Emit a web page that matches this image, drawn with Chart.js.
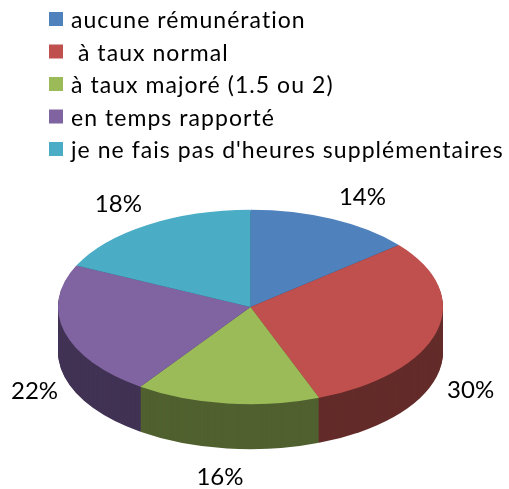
<!DOCTYPE html>
<html>
<head>
<meta charset="utf-8">
<style>
html, body { margin: 0; padding: 0; background: #fff; }
canvas { display: block; }
</style>
<script src="https://cdn.jsdelivr.net/npm/chart.js@4"></script>
</head>
<body>
<canvas id="myChart" width="509" height="489"></canvas>
<script>
const legendes = ["aucune rémunération", " à taux normal", "à taux majoré (1.5 ou 2)", "en temps rapporté", "je ne fais pas d'heures supplémentaires"];
const valeurs = [14, 30.2, 15.5, 22.3, 18];
const couleurs = ["#4F81BD", "#C0504D", "#9BBB59", "#8064A2", "#4BACC6"];
const couleursCote = ["#2A4466", "#622A28", "#4F602E", "#403153", "#245D6C"];

// decalage des etiquettes par rapport au bord de la part
const decalages = [[30, -22], [34, 58], [-7, 74], [-30, 59], [-29, -21]];
const police = "23px Lato";
const policeEtiquette = "24px Lato";
const espacement = "1.05px";

const centreY = 307;
const aplat = 0.505;
const epaisseur = 45;

function placer(ctx, chart, dy) {
    const cy = (chart.chartArea.top + chart.chartArea.bottom) / 2;
    ctx.translate(0, centreY + dy);
    ctx.scale(1, aplat);
    ctx.translate(0, -cy);
}

const pie3d = {
    id: "pie3d",
    beforeDatasetsDraw(chart) {
        const ctx = chart.ctx;
        const arcs = chart.getDatasetMeta(0).data;
        // le cote: les memes parts redessinees par dessous, couche par couche
        ctx.save();
        ctx.globalCompositeOperation = "destination-over";
        for (let d = 1; d <= epaisseur; d++) {
            ctx.save();
            placer(ctx, chart, d);
            arcs.forEach((arc, i) => {
                const opts = arc.options;
                arc.options = Object.assign({}, opts, {backgroundColor: couleursCote[i]});
                arc.draw(ctx);
                arc.options = opts;
            });
            ctx.restore();
        }
        ctx.restore();
        ctx.save();
        placer(ctx, chart, 0);
    },
    afterDatasetsDraw(chart) {
        const ctx = chart.ctx;
        ctx.restore();

        ctx.save();
        ctx.fillStyle = "#000";
        ctx.textBaseline = "middle";

        // pourcentages
        ctx.font = policeEtiquette;
        ctx.textAlign = "center";
        ctx.letterSpacing = "0px";
        chart.getDatasetMeta(0).data.forEach((arc, i) => {
            const a = (arc.startAngle + arc.endAngle) / 2;
            const x = arc.x + arc.outerRadius * Math.cos(a) + decalages[i][0];
            const y = centreY + arc.outerRadius * aplat * Math.sin(a) + decalages[i][1];
            ctx.fillText(Math.round(valeurs[i]) + "%", x, y);
        });

        // legende
        ctx.font = police;
        ctx.textAlign = "left";
        ctx.letterSpacing = espacement;
        legendes.forEach((texte, i) => {
            const y = 19 + i * 32.5;
            ctx.fillStyle = couleurs[i];
            ctx.fillRect(49, y - 7, 14, 14);
            ctx.fillStyle = "#000";
            ctx.fillText(texte, 71, y + 2);
        });
        ctx.restore();
    }
};

new Chart("myChart", {
    type: "pie",
    data: {
        labels: legendes,
        datasets: [{
            data: valeurs,
            backgroundColor: couleurs,
            borderWidth: 0
        }]
    },
    options: {
        responsive: false,
        animation: false,
        layout: {padding: {left: 58, right: 66, top: 0, bottom: 0}},
        plugins: {
            legend: {display: false},
            tooltip: {enabled: false}
        }
    },
    plugins: [pie3d]
});
</script>
</body>
</html>
